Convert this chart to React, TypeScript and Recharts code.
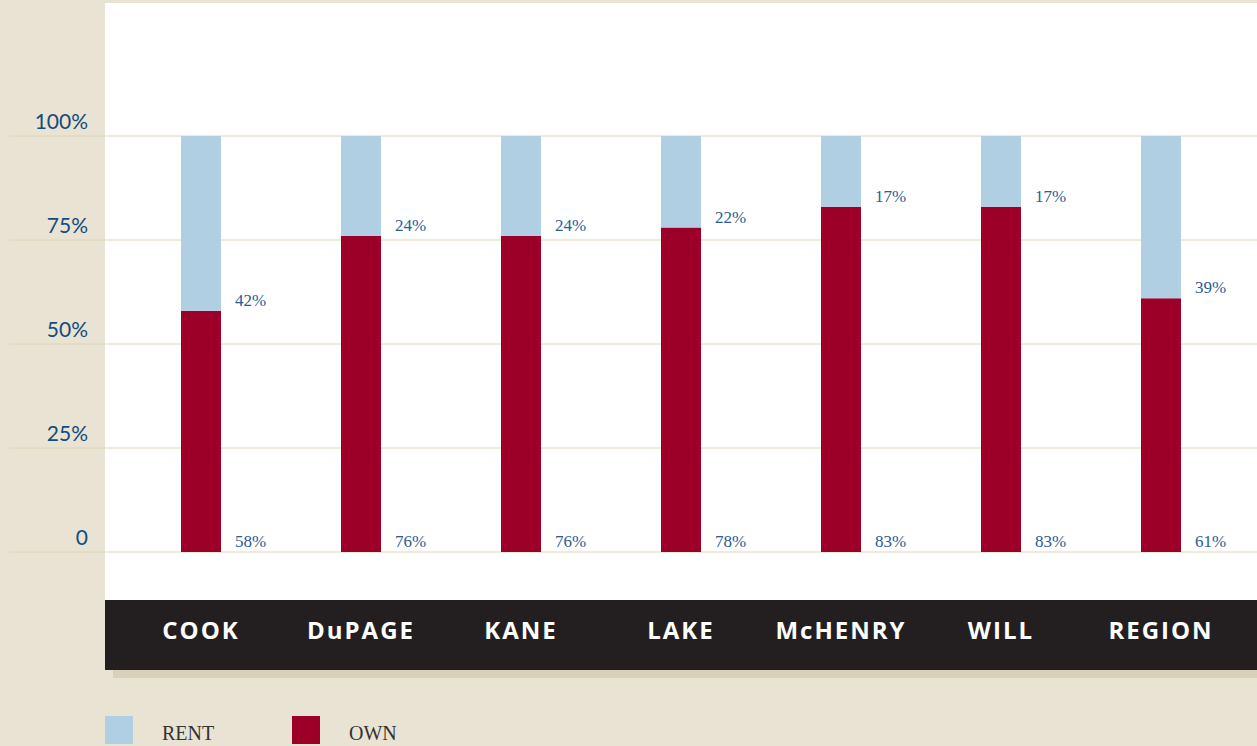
import React from "react";
import { BarChart, Bar, XAxis, YAxis, CartesianGrid, LabelList, Legend } from "recharts";

const categories = ["COOK", "DuPAGE", "KANE", "LAKE", "McHENRY", "WILL", "REGION"];
const ownValues = [58, 76, 76, 78, 83, 83, 61];
const rentValues = [42, 24, 24, 22, 17, 17, 39];
const yTicks = [0, 25, 50, 75, 100];
const yTickLabels = ["0", "25%", "50%", "75%", "100%"];

const RENT_COLOR = "#b1cfe3";
const OWN_COLOR = "#9c0029";
const LABEL_BLUE = "#2a5d93";
const TICK_BLUE = "#134b7d";
const GRID = "#e0d4b6";

const data = categories.map((c, i) => ({ name: c, own: ownValues[i], rent: rentValues[i] }));

const YTick = (props: any) => {
  const { y, payload } = props;
  const idx = yTicks.indexOf(payload.value);
  return (
    <text x={88} y={y - 7} textAnchor="end" fill={TICK_BLUE} fontFamily="Lato, 'Open Sans', sans-serif" fontSize={21}>
      {yTickLabels[idx]}
    </text>
  );
};

const XTick = (props: any) => {
  const { x, payload } = props;
  return (
    <text x={x} y={639} textAnchor="middle" fill="#ffffff" fontFamily="'Open Sans', sans-serif" fontWeight={700} fontSize={24} letterSpacing={2}>
      {payload.value}
    </text>
  );
};

const ValueLabel = (props: any) => {
  const { x, y, width, height, value } = props;
  return (
    <text x={x + width + 14} y={y + height - 5} fill={LABEL_BLUE} fontFamily="'Liberation Serif', serif" fontSize={17}>
      {value}%
    </text>
  );
};

const legendItems = [
  { label: "RENT", color: RENT_COLOR },
  { label: "OWN", color: OWN_COLOR },
];

const LegendContent = () => (
  <div style={{ display: "flex" }}>
    {legendItems.map((it) => (
      <div key={it.label} style={{ display: "flex", alignItems: "flex-end", width: 187 }}>
        <div style={{ width: 28, height: 28, background: it.color }} />
        <span style={{ marginLeft: 29, fontFamily: "'Liberation Serif', serif", fontSize: 20, color: "#333", lineHeight: "20px", marginBottom: 1 }}>
          {it.label}
        </span>
      </div>
    ))}
  </div>
);

export default function App() {
  return (
    <div style={{ position: "absolute", left: 0, top: 0, width: 1257, height: 746, background: "#e9e3d4", overflow: "hidden" }}>
      <div style={{ position: "absolute", left: 105, top: 3, width: 1152, height: 597, background: "#ffffff" }} />
      <div style={{ position: "absolute", left: 113, top: 670, width: 1144, height: 8, background: "#d9d0b9" }} />
      <div style={{ position: "absolute", left: 105, top: 600, width: 1152, height: 70, background: "#231f20" }} />
      <div style={{ position: "absolute", left: 0, top: 0 }}>
        <BarChart width={1257} height={746} data={data} margin={{ top: 136, right: 16, bottom: 164, left: 0 }} barSize={40}>
          <CartesianGrid
            vertical={false}
            horizontal={(p: any) => (
              <line key={`h-${p.index}-${p.y1}`} x1={9} x2={1257} y1={p.y1} y2={p.y2} stroke={GRID} strokeWidth={1} />
            )}
          />
          <XAxis dataKey="name" height={30} axisLine={false} tickLine={false} tick={<XTick />} interval={0} />
          <YAxis width={121} domain={[0, 100]} ticks={yTicks} axisLine={false} tickLine={false} tick={<YTick />} />
          <Legend layout="horizontal" verticalAlign="middle" align="center" wrapperStyle={{ position: "absolute", left: 105, top: 716, width: 400, height: 30 }} content={<LegendContent />} />
          <Bar dataKey="own" name="OWN" stackId="a" fill={OWN_COLOR} isAnimationActive={false}>
            <LabelList dataKey="own" content={<ValueLabel />} />
          </Bar>
          <Bar dataKey="rent" name="RENT" stackId="a" fill={RENT_COLOR} isAnimationActive={false}>
            <LabelList dataKey="rent" content={<ValueLabel />} />
          </Bar>
        </BarChart>
      </div>
    </div>
  );
}
